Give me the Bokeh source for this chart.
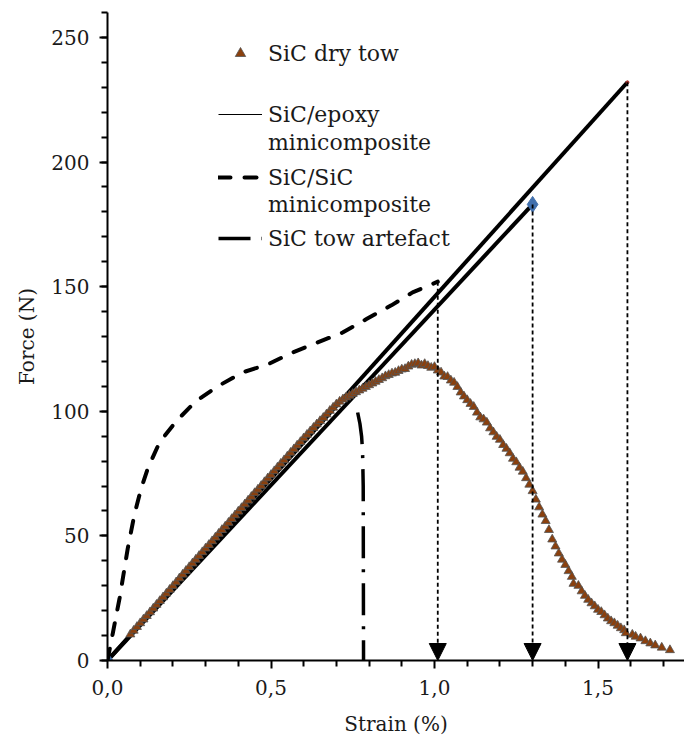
from bokeh.plotting import figure
from bokeh.models import (Range1d, FixedTicker, Legend, LegendItem, Arrow, NormalHead,
                          CustomJSTickFormatter)
from bokeh.embed import file_html
from bokeh.resources import INLINE

# ---- data (strain in %, force in N) ----
strain_tow = [0.07, 0.08, 0.09, 0.10, 0.11, 0.12, 0.13, 0.14, 0.15, 0.16, 0.17, 0.18, 0.19, 0.20,
              0.21, 0.22, 0.23, 0.24, 0.25, 0.26, 0.27, 0.28, 0.29, 0.30, 0.31, 0.32, 0.33, 0.34,
              0.35, 0.36, 0.37, 0.38, 0.39, 0.40, 0.41, 0.42, 0.43, 0.44, 0.45, 0.46, 0.47, 0.48,
              0.49, 0.50, 0.51, 0.52, 0.53, 0.54, 0.55, 0.56, 0.57, 0.58, 0.59, 0.60, 0.61, 0.62,
              0.63, 0.64, 0.65, 0.66, 0.67, 0.68, 0.69, 0.70, 0.71, 0.72, 0.73, 0.74, 0.75, 0.76,
              0.77, 0.78, 0.79, 0.80, 0.81, 0.82, 0.83, 0.84, 0.85, 0.86, 0.87, 0.88, 0.89, 0.90,
              0.91, 0.92, 0.93, 0.94, 0.95, 0.96, 0.97, 0.98, 0.99, 1.00, 1.01, 1.02, 1.03, 1.04,
              1.05, 1.06, 1.07, 1.08, 1.09, 1.10, 1.11, 1.12, 1.13, 1.14, 1.15, 1.16, 1.17, 1.18,
              1.19, 1.20, 1.21, 1.22, 1.23, 1.24, 1.25, 1.26, 1.27, 1.28, 1.29, 1.30, 1.31, 1.32,
              1.33, 1.34, 1.35, 1.36, 1.37, 1.38, 1.39, 1.40, 1.41, 1.42, 1.425, 1.44, 1.45, 1.46,
              1.47, 1.48, 1.49, 1.50, 1.51, 1.52, 1.53, 1.54, 1.55, 1.56, 1.57, 1.58, 1.585, 1.605,
              1.615, 1.63, 1.645, 1.66, 1.675, 1.695, 1.72]
force_tow = [10.5, 12.0, 13.5, 15.0, 16.5, 17.9, 19.4, 20.9, 22.4, 23.9, 25.4, 26.9, 28.4, 29.9,
             31.4, 33.0, 34.5, 36.0, 37.5, 39.0, 40.5, 42.0, 43.5, 45.0, 46.4, 47.9, 49.4, 50.9,
             52.4, 53.8, 55.3, 56.8, 58.3, 59.8, 61.2, 62.7, 64.2, 65.7, 67.2, 68.6, 70.1, 71.6,
             73.1, 74.5, 76.0, 77.5, 79.0, 80.4, 81.9, 83.4, 84.8, 86.3, 87.7, 89.2, 90.6, 92.0,
             93.4, 94.8, 96.1, 97.4, 98.8, 100.2, 101.5, 102.8, 103.9, 104.8, 105.6, 106.3, 107.0, 107.7,
             108.4, 109.1, 109.8, 110.5, 111.2, 111.9, 112.6, 113.3, 114.1, 114.6, 115.2, 115.5, 116.2, 116.8,
             117.0, 118.0, 118.7, 119.0, 119.3, 118.4, 119.0, 118.2, 117.5, 117.8, 116.4, 115.6, 114.0, 113.8,
             112.4, 111.5, 109.8, 107.6, 106.0, 104.5, 103.0, 101.8, 99.5, 97.6, 96.8, 95.5, 93.2, 91.6,
             89.8, 88.6, 86.5, 85.0, 83.2, 81.0, 79.6, 77.4, 75.8, 73.2, 70.6, 68.0, 64.6, 61.5,
             58.6, 56.0, 52.4, 48.6, 45.8, 43.0, 40.5, 38.4, 35.9, 33.6, 30.8, 30.0, 27.8, 26.0,
             24.4, 23.0, 21.8, 20.4, 19.5, 18.2, 16.9, 15.8, 15.0, 14.0, 13.0, 12.2, 11.0, 10.4,
             9.6, 8.9, 7.8, 6.9, 6.1, 5.2, 4.2]

strain_epoxy = [0.0, 1.59]
force_epoxy = [0.0, 232.0]

strain_second = [0.0, 1.30]
force_second = [0.0, 183.0]

strain_sisic = [0.0, 0.016, 0.037, 0.062, 0.083, 0.103, 0.123, 0.159, 0.21, 0.27, 0.337, 0.413,
                0.49, 0.566, 0.642, 0.719, 0.792, 0.868, 0.933, 1.01]
force_sisic = [0.0, 10.8, 25.0, 45.0, 59.0, 69.0, 77.0, 87.5, 96.0, 104.0, 110.0, 115.6,
               118.8, 123.6, 127.6, 131.6, 137.0, 142.5, 147.7, 152.0]

strain_artefact = [0.765, 0.772, 0.777, 0.780, 0.782, 0.783]
force_artefact = [99.5, 95.0, 90.0, 84.0, 70.0, 0.0]

# failure points marked with arrows down to the strain axis
failure_strain = [1.01, 1.30, 1.59]
failure_force = [152.0, 183.0, 232.0]

x_major = [0.0, 0.5, 1.0, 1.5]
x_minor = [0.1, 0.2, 0.3, 0.4, 0.6, 0.7, 0.8, 0.9, 1.1, 1.2, 1.3, 1.4, 1.6, 1.7]
y_major = [0, 50, 100, 150, 200, 250]
y_minor = [v for v in range(0, 261, 10)]

FONT = "DejaVu Serif"

p = figure(width=684, height=742, output_backend="svg", toolbar_location=None,
           x_range=Range1d(0, 577 / 327), y_range=Range1d(0, 260),
           min_border_left=107, min_border_right=0, min_border_top=12, min_border_bottom=82)
p.outline_line_color = None
p.xgrid.visible = False
p.ygrid.visible = False
p.background_fill_color = "white"

for ax in (p.xaxis[0], p.yaxis[0]):
    ax.axis_line_width = 2
    ax.major_tick_line_width = 2
    ax.minor_tick_line_width = 2
    ax.major_tick_in = 0
    ax.minor_tick_in = 0
    ax.major_tick_out = 8
    ax.minor_tick_out = 6
    ax.major_label_text_font = FONT
    ax.major_label_text_font_size = "20px"
    ax.major_label_text_color = "#1a1a1a"
    ax.axis_label_text_font = FONT
    ax.axis_label_text_font_size = "20px"
    ax.axis_label_text_font_style = "normal"
    ax.axis_label_text_color = "#1a1a1a"

p.xaxis.ticker = FixedTicker(ticks=x_major, minor_ticks=x_minor)
p.yaxis.ticker = FixedTicker(ticks=y_major, minor_ticks=y_minor)
p.xaxis.formatter = CustomJSTickFormatter(code="return tick.toFixed(1).replace('.', ',');")
p.xaxis.axis_label = "Strain (%)"
p.yaxis.axis_label = "Force (N)"
p.xaxis.major_label_standoff = 11
p.yaxis.major_label_standoff = 10
p.xaxis.axis_label_standoff = 14
p.yaxis.axis_label_standoff = 9

# failure arrows (dotted shafts with filled heads at the strain axis)
for xs, fs in zip(failure_strain, failure_force):
    p.add_layout(Arrow(end=NormalHead(size=17, fill_color="black", line_color="black"),
                       x_start=xs, y_start=fs, x_end=xs, y_end=0,
                       line_dash="4 3", line_width=1.8, line_color="black"))

# thin epoxy line used for its legend glyph, thick line drawn on top
r_epoxy_thin = p.line(strain_epoxy, force_epoxy, line_color="black", line_width=1.2)
p.line(strain_epoxy, force_epoxy, line_color="black", line_width=4)
p.scatter(strain_epoxy, force_epoxy, marker="circle", size=3,
          fill_color="#a0302a", line_color="#a0302a")
# invisible renderer, only carries the second line of the wrapped legend labels
r_blank = p.line(strain_epoxy, force_epoxy, line_alpha=0)

p.line(strain_second, force_second, line_color="black", line_width=4)
p.scatter(strain_second, force_second, marker="diamond", size=16,
          fill_color="#4270ad", line_color="#4270ad")

r_sisic = p.line(strain_sisic, force_sisic, line_color="black", line_width=4,
                 line_dash="12 14", line_cap="round")
r_art = p.line(strain_artefact, force_artefact, line_color="black", line_width=3.5,
               line_dash="32 11 3 11")

r_tow = p.scatter(strain_tow, force_tow, marker="triangle", size=9,
                  fill_color="#8a400e", line_color="#555555", line_width=1, line_alpha=0.8)

legends = [
    Legend(items=[LegendItem(label="SiC dry tow", renderers=[r_tow])],
           location=(111, 594)),
    Legend(items=[LegendItem(label="SiC/epoxy", renderers=[r_epoxy_thin]),
                  LegendItem(label="minicomposite", renderers=[r_blank])],
           location=(111, 505), spacing=2),
    Legend(items=[LegendItem(label="SiC/SiC", renderers=[r_sisic]),
                  LegendItem(label="minicomposite", renderers=[r_blank])],
           location=(111, 443), spacing=1),
    Legend(items=[LegendItem(label="SiC tow artefact", renderers=[r_art])],
           location=(111, 409)),
]
for lg in legends:
    lg.orientation = "vertical"
    lg.border_line_color = None
    lg.background_fill_alpha = 0
    lg.padding = 0
    lg.margin = 0
    lg.glyph_width = 44
    lg.glyph_height = 26
    lg.label_standoff = 6
    lg.label_text_font = FONT
    lg.label_text_font_size = "22px"
    lg.label_text_color = "#1a1a1a"
    lg.label_height = 26
    p.add_layout(lg)

open("out.html", "w").write(file_html(p, INLINE))
